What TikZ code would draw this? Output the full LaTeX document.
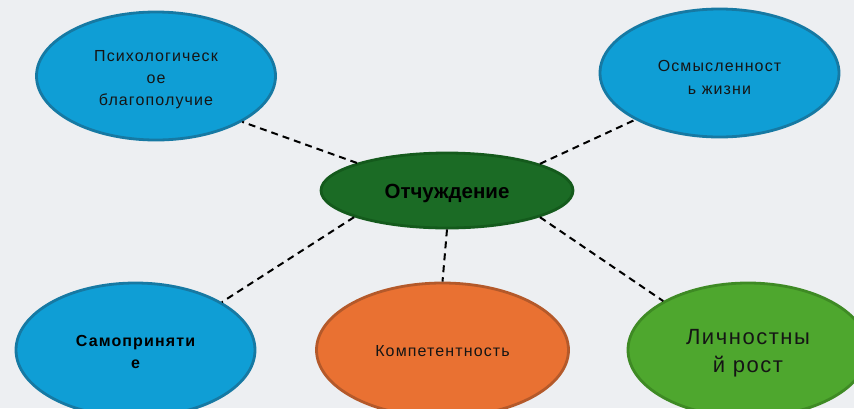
\documentclass[tikz,border=0pt]{standalone}
\usepackage{fontspec}
\setmainfont{Liberation Sans}
\newfontfamily\lsfont[LetterSpace=7]{Liberation Sans}
\usetikzlibrary{shapes.geometric}
\definecolor{bg}{HTML}{EDEFF2}
\definecolor{bluefill}{HTML}{0F9ED5}
\definecolor{blueline}{HTML}{1679A3}
\definecolor{dgfill}{HTML}{1B6B25}
\definecolor{dgline}{HTML}{145A1C}
\definecolor{orfill}{HTML}{E97132}
\definecolor{orline}{HTML}{B4592A}
\definecolor{lgfill}{HTML}{4EA72E}
\definecolor{lgline}{HTML}{3E8A24}
\definecolor{txt}{HTML}{151515}
\tikzset{
  bubble/.style={ellipse, inner sep=0pt, line width=2.8pt},
  bluebubble/.style={bubble, fill=bluefill, draw=blueline, minimum width=239pt, minimum height=128pt},
  lbl/.style={inner sep=0pt, align=center, text=txt},
  link/.style={line width=2pt, dash pattern=on 7pt off 5pt, black},
}
\begin{document}
\begin{tikzpicture}[x=1pt,y=-1pt]
\useasboundingbox (0,0) rectangle (854,408);
\fill[bg] (0,0) rectangle (854,408);
\clip (0,0) rectangle (854,408);

\node[bluebubble] (tl) at (156,76) {};
\node[bluebubble] (tr) at (719.5,73) {};
\node[bubble, fill=dgfill, draw=dgline, minimum width=252pt, minimum height=75pt] (c) at (447,190.5) {};
\node[bluebubble, minimum height=134pt] (bl) at (135.5,350) {};
\node[bubble, fill=orfill, draw=orline, minimum width=252pt, minimum height=134pt] (bm) at (442.5,350) {};
\node[bubble, fill=lgfill, draw=lgline, minimum width=240pt, minimum height=134pt] (br) at (748,350) {};

\node[lbl, font=\lsfont\fontsize{16}{22}\selectfont] (tlt) at ([yshift=-4pt]tl.center) {Психологическ\\ое\\благополучие};
\node[lbl, font=\lsfont\fontsize{16}{23}\selectfont] (trt) at ([yshift=-4pt]tr.center) {Осмысленност\\ь жизни};
\node[lbl, text=black, font=\bfseries\fontsize{20.5}{24}\selectfont] (ct) at ([yshift=-2.5pt]c.center) {Отчуждение};
\node[lbl, text=black, font=\lsfont\bfseries\fontsize{16}{22}\selectfont] (blt) at ([yshift=-2pt]bl.center) {Самоприняти\\е};
\node[lbl, font=\lsfont\fontsize{16}{22}\selectfont] (bmt) at ([yshift=-1pt]bm.center) {Компетентность};
\node[lbl, font=\lsfont\fontsize{22}{28}\selectfont] (brt) at ([yshift=-3pt]br.center) {Личностны\\й рост};

\draw[link] (c.163) -- (tl.332);
\draw[link] (c.16) -- (tr.209);
\draw[link] (c.196) -- (bl.29);
\draw[link] (c.270) -- (bm.90);
\draw[link] (c.344) -- (br.150);
\end{tikzpicture}
\end{document}
